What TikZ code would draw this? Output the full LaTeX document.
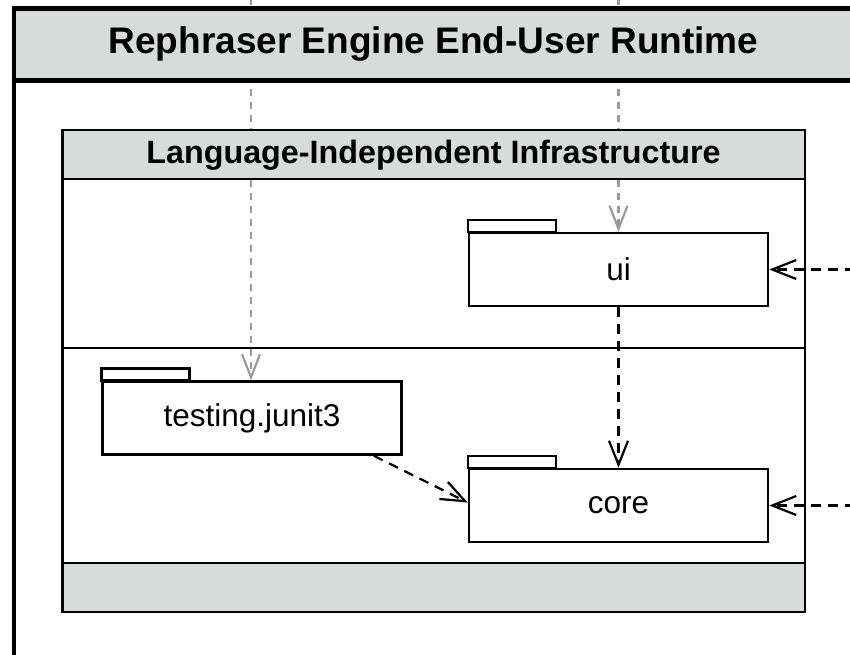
\documentclass[tikz,border=0pt]{standalone}
\usepackage{fontspec}
\setmainfont{Liberation Sans}
\usetikzlibrary{arrows.meta}
\definecolor{bandgray}{HTML}{D9DBDA}
\definecolor{depgray}{HTML}{9A9A9A}
\tikzset{
  pkgbody/.style={draw, line width=2.5pt, minimum width=299pt, minimum height=73pt, inner sep=0pt, font=\fontsize{31.5}{36}\selectfont},
  pkgtab/.style={draw, line width=2.5pt},
  depline/.style={line width=2.2pt, dash pattern=on 10pt off 7pt, -{Straight Barb[length=24pt,width=19pt,line width=2.2pt]}},
  extdep/.style={depline, draw=depgray, dash pattern=on 7pt off 6pt, -{Straight Barb[length=23pt,width=18pt,line width=2.2pt,color=depgray]}},
  frameline/.style={line width=2.5pt},
  outerline/.style={line width=4.5pt},
  bandfill/.style={fill=bandgray}
}
\begin{document}
\begin{tikzpicture}[x=1pt,y=-1pt]
\useasboundingbox (0,0) rectangle (850,654);
\clip (0,0) rectangle (850,654);
% packages
\node[pkgbody] (ui) at (618.5,269.5) {ui};
\node[pkgbody] (junit) at (252,418) {testing.junit3};
\node[pkgbody] (core) at (618.5,505.5) {core};
\draw[pkgtab] (ui.north west) rectangle ++(88,-12);
\draw[pkgtab] (junit.north west) rectangle ++(88,-12);
\draw[pkgtab] (core.north west) rectangle ++(88,-12);
% external sources
\coordinate (srcA) at (251,-2);
\coordinate (srcB) at (618.5,-2);
\coordinate (extUi) at (855,269.5);
\coordinate (extCore) at (855,505.5);
% gray dependencies (under the bands)
\draw[extdep] (srcA) -- (srcA |- junit.north);
\draw[extdep] (srcB) -- (ui.north);
% outer frame
\draw[outerline, bandfill] (14,8.5) rectangle (900,80.5);
\draw[outerline] (14,80.5) -- (14,700);
\node[font=\bfseries\fontsize{37}{44}\selectfont] (title) at (433.5,44.5) {Rephraser Engine End-User Runtime};
% inner frame
\draw[frameline, bandfill] (62.5,130) rectangle (805,179);
\draw[frameline, bandfill] (62.5,563) rectangle (805,612);
\draw[frameline] (62.5,130) rectangle (805,612);
\draw[frameline] (62.5,348) -- (805,348);
\node[font=\bfseries\fontsize{32.3}{37}\selectfont] (layer) at (433.5,155) {Language-Independent Infrastructure};
% dependencies
\draw[depline] (ui.south) -- (core.north);
\draw[depline] ([xshift=-29pt]junit.south east) -- ([yshift=3pt]core.west);
\draw[depline] (extUi) -- (ui.east);
\draw[depline] (extCore) -- (core.east);
\end{tikzpicture}
\end{document}
